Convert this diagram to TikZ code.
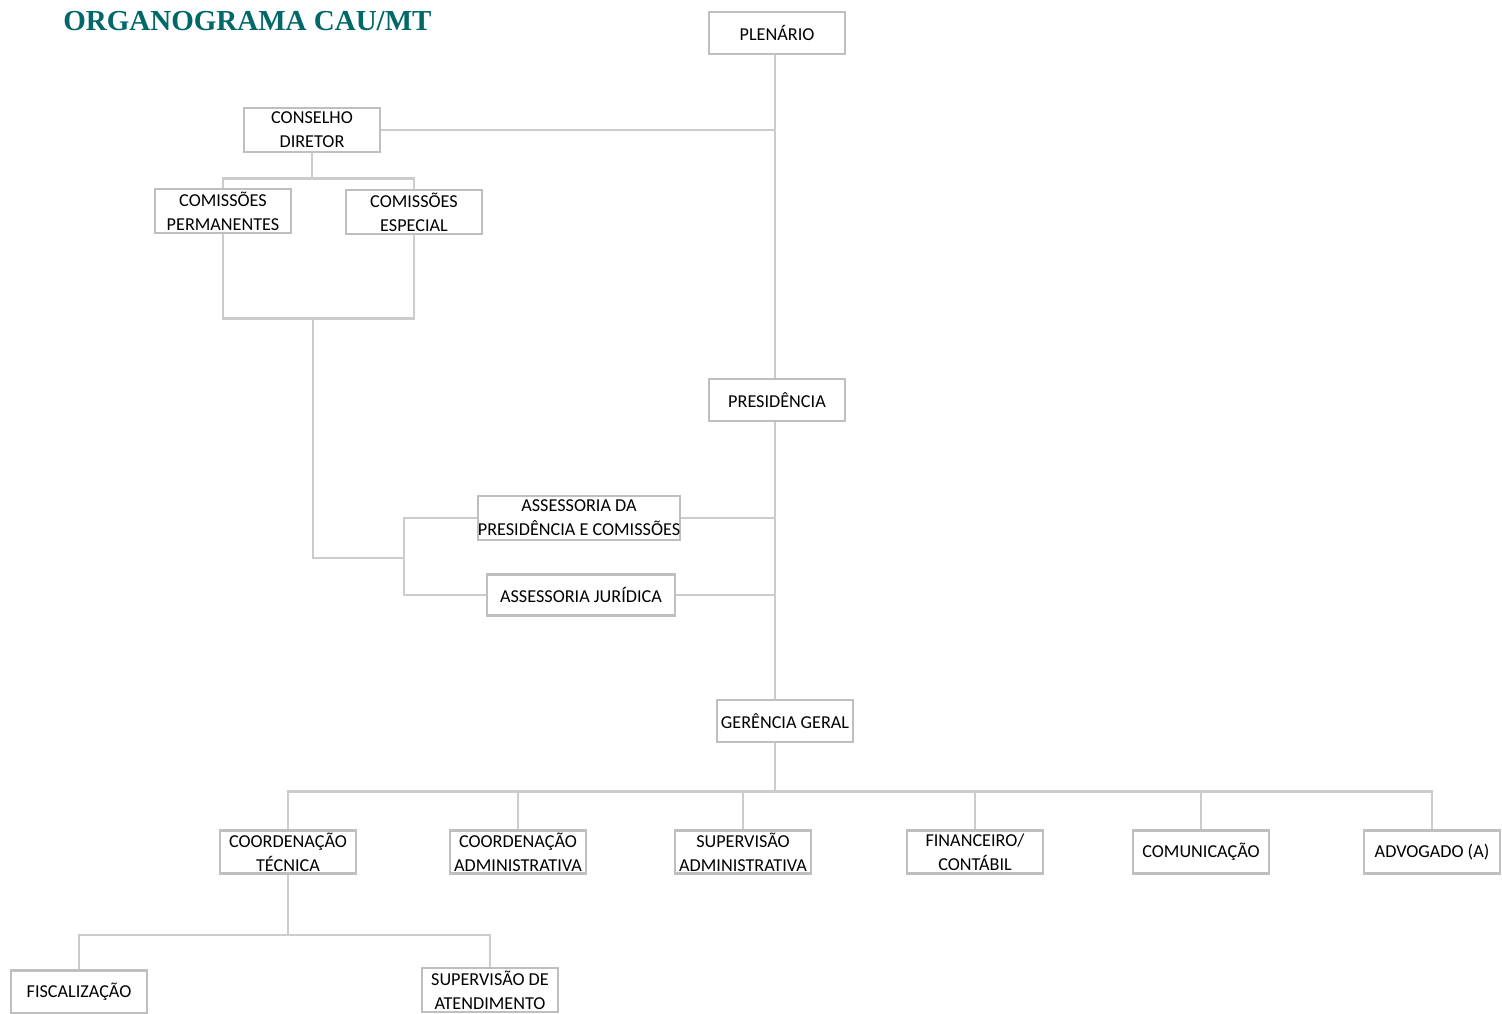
\documentclass[tikz,border=0pt]{standalone}
\usepackage{fontspec}
\setmainfont{Carlito}
\newfontfamily\titlefont{Liberation Serif}
\definecolor{titleteal}{RGB}{0,104,104}
\begin{document}
\begin{tikzpicture}[x=0.5pt,y=-0.5pt,
    box/.style={draw=gray!50, line width=1.3pt, fill=white, minimum width=68pt,
        minimum height=21pt, inner sep=0.5pt, align=center,
        font=\fontsize{9.1}{12}\selectfont},
    link/.style={draw=gray!40, line width=1.2pt}]
    \useasboundingbox (0,0) rectangle (1502,1013);
    \node[anchor=west, inner sep=0pt, text=titleteal, font=\titlefont\bfseries\fontsize{14.5}{16}\selectfont] (title) at (63,21){ORGANOGRAMA CAU/MT};
    % top
    \node[box] (plen) at (777,33){PLENÁRIO};
    \node[box, minimum height=22pt] (cons) at (312,130){CONSELHO\\DIRETOR};
    \node[box, minimum height=22pt] (perm) at (223,211){COMISSÕES\\PERMANENTES};
    \node[box, minimum height=22pt] (esp) at (414,212){COMISSÕES\\ESPECIAL};
    \node[box] (pres) at (777,400){PRESIDÊNCIA};
    \node[box, minimum width=95pt, minimum height=22pt, inner sep=0pt] (asp) at (579,518){ASSESSORIA DA\\PRESIDÊNCIA E COMISSÕES};
    \node[box, minimum width=94pt, minimum height=20.5pt] (jur) at (581,595){ASSESSORIA JURÍDICA};
    \node[box] (ger) at (785,721){GERÊNCIA GERAL};
    % bottom row
    \node[box, minimum height=21.5pt] (coordt) at (288,852){COORDENAÇÃO\\TÉCNICA};
    \node[box, minimum height=21.5pt] (coorda) at (518,852){COORDENAÇÃO\\ADMINISTRATIVA};
    \node[box, minimum height=21.5pt] (supa) at (743,852){SUPERVISÃO\\ADMINISTRATIVA};
    \node[box, minimum height=21.5pt] (fin) at (975,852){FINANCEIRO/\\CONTÁBIL};
    \node[box, minimum height=21.5pt] (com) at (1201,852){COMUNICAÇÃO};
    \node[box, minimum height=21.5pt] (adv) at (1432,852){ADVOGADO (A)};
    \node[box, minimum height=21.5pt] (fisc) at (79,992){FISCALIZAÇÃO};
    \node[box, minimum height=22pt] (supat) at (490,990){SUPERVISÃO DE\\ATENDIMENTO};
    % connectors
    \draw[link] (plen.south -| 775,0) -- (pres.north -| 775,0);
    \draw[link] (cons.east) -- (cons.east -| 775,0);
    \draw[link] (cons.south) -- ++(0,25) coordinate (cj);
    \draw[link] (perm.north) |- (cj) -| (esp.north);
    \draw[link] (perm.south) -- ++(0,84) coordinate (pj) -| (esp.south);
    \coordinate (pm) at (313,317);
    \coordinate (aj) at (404,558);
    \draw[link] (pm) |- (aj);
    \draw[link] (asp.west) -| (aj) |- (jur.west);
    \draw[link] (asp.east) -- (asp.east -| 775,0);
    \draw[link] (jur.east) -- (jur.east -| 775,0);
    \draw[link] (pres.south -| 775,0) -- (ger.north -| 775,0);
    \draw[link] (ger.south -| 775,0) -- ++(0,48) coordinate (gj);
    \draw[link] (coordt.north) |- (gj) -| (adv.north);
    \foreach \n in {coorda,supa,fin,com}
        \draw[link] (\n.north) -- (\n.north |- gj);
    \draw[link] (coordt.south) -- ++(0,60) coordinate (tj);
    \draw[link] (fisc.north) |- (tj) -| (supat.north);
\end{tikzpicture}
\end{document}
